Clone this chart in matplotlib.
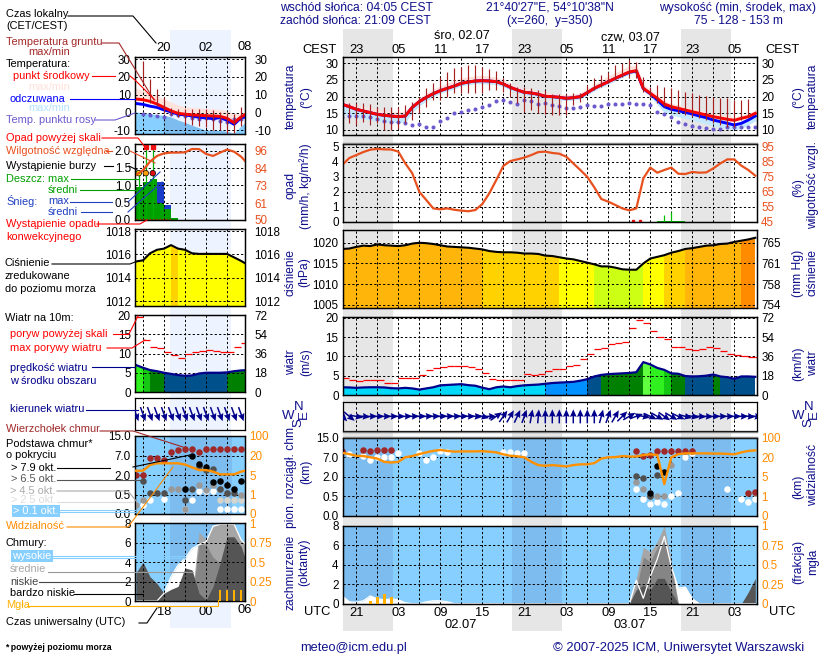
import numpy as np
import matplotlib
matplotlib.use('Agg')
import matplotlib.pyplot as plt
from matplotlib.colors import ListedColormap, BoundaryNorm

plt.rcParams['font.family'] = ['Liberation Sans', 'DejaVu Sans']
plt.rcParams['font.size'] = 8.4

W, H = 820, 660
NAVY = '#10108c'
RH_COL = '#e8501e'
VIS_COL = '#ff8c00'
SKY = '#87cfff'
SKY_NIGHT = '#7cbcee'

# hours counted from 01.07 00 UTC
hours = np.arange(19, 79)
hours_l = np.arange(14, 31)

# main panel, one value per hour, six rows of ten
temp_mid = [17.7, 17, 16.2, 15.7, 15.2, 14.7, 14.4, 14.2, 14, 14.2,
            16.8, 18.5, 19.8, 20.9, 21.8, 22.5, 23.2, 24, 24.4, 24.7,
            24.8, 24.7, 24.5, 23.8, 22.8, 22, 21.3, 21.1, 20.7, 20.1,
            20, 19.8, 19.5, 19.7, 20, 21.2, 22.5, 23.5, 24.5, 25.5,
            26.5, 27.4, 27.8, 22.5, 21, 19.5, 17.8, 17, 16.5, 16,
            15.5, 15, 14.5, 14, 13.6, 13.2, 12.9, 13.5, 14, 15]
temp_max = [18.4, 17.8, 17.2, 16.8, 16.4, 16, 15.6, 15.4, 15.2, 15.4,
            17.6, 19.4, 20.8, 22, 23, 23.8, 24.6, 25.4, 25.8, 26.1,
            26.2, 26, 25.6, 24.8, 23.6, 22.8, 22.2, 22, 21.6, 21,
            20.8, 20.6, 20.3, 20.5, 21, 22.2, 23.5, 24.8, 26, 27,
            28, 29, 29.2, 23.5, 21.8, 20.3, 18.6, 17.8, 17.3, 16.8,
            16.3, 15.8, 15.3, 14.8, 14.4, 14, 13.6, 14.2, 14.8, 15.7]
felt = [17.7, 17, 16.2, 15.7, 15.2, 14.7, 14.4, 14.2, 14, 14.2,
        16.8, 18.5, 19.8, 20.9, 21.8, 22.5, 23.2, 24, 24.4, 24.7,
        24.8, 24.7, 24.5, 23.8, 22.8, 22, 21.3, 21.1, 20.7, 20.1,
        20, 19.8, 19.5, 19.7, 20, 21.2, 22.5, 23.5, 24.5, 25.5,
        26.4, 27.3, 27.7, 22.4, 20.9, 19, 17, 16.2, 15.8, 15.3,
        14.8, 14.2, 13.7, 13, 12.5, 12, 11.5, 12, 13, 14.2]
felt_min = [15, 14.5, 14, 13.5, 13.2, 13, 12.8, 12.5, 12.4, 12.6,
            15.5, 17.5, 19, 20.2, 21.2, 21.9, 22.6, 23.4, 23.8, 24.1,
            24.1, 24, 23.8, 23.2, 22.2, 21.5, 20.7, 20.5, 20.2, 19.6,
            19.5, 19.3, 19, 19.2, 19.5, 20.7, 22, 23, 24, 25,
            26, 27, 27.4, 22, 20.3, 18, 15.5, 14.8, 14.2, 13.7,
            13.2, 12.6, 12, 11.4, 11, 10.6, 10.2, 10.6, 11.8, 13]
dew = [13.9, 14.1, 14.2, 14.3, 14, 13.4, 12.6, 12.4, 12.3, 12.1,
       11.5, 11.8, 10.9, 10.8, 12.7, 13.7, 15, 15.5, 15.9, 16.3,
       16.8, 17.4, 18.8, 19.1, 18.4, 17.7, 19, 18.7, 17.8, 18.2,
       17.4, 17.2, 16.5, 16.5, 16.8, 17.4, 17.2, 17.3, 17.8, 17.9,
       17.9, 18, 17.9, 17.7, 17.5, 15.5, 14.7, 13.8, 12.5, 11.9,
       11.3, 10.9, 10.6, 10.4, 10.2, 10.9, 10.8, 11, 11, 11]
ground_max = [np.nan, 18, 18, 18, 17.8, 17, 17, 17, 17, 17.5,
              18.4, 20, 22.5, 24.2, 26, 27.5, 28.5, 29, 29.6, 29.4,
              29, 28.2, 27.6, 25.5, 24, 23, 23, 22.5, 22, 22,
              20.8, 20.8, 20.8, 21, 21.2, 23.5, 25.5, 26.5, 27.5, 29.5,
              30.2, 31, 30.3, 26, 23, 23.5, 23, 22.5, 22, 21.5,
              21, 20.5, 20.2, 20, 19.5, 19.5, 19, 19, 19.2, np.nan]
ground_min = [np.nan, 12.2, 11.6, 12.5, 11.5, 12, 10, 10, 10.2, 12,
              13, 15, 17, 19, 19, 20, 21, 21, 21, 21,
              21, 22, 22, 21.5, 20, 18, 15.5, 16, 15, 14.8,
              14.5, 14.5, 14.5, 17.5, 18.5, 21, 22, 23, 24, 25,
              26, 25.5, 25.5, 21.5, 20, 18, 17, 16, 15, 14.5,
              14, 13.5, 13, 12, 11.5, 11, 11, 13, 14, np.nan]
humidity = [83, 87.6, 89.6, 91.6, 93.2, 93.7, 93.4, 93.3, 91.9, 84,
            77.4, 65, 59.5, 53.9, 53.3, 53.9, 53, 52.4, 52, 52.8,
            56.8, 64, 72.9, 82.3, 85.6, 86.7, 87.9, 89.6, 91.6, 91.9,
            91, 90.5, 88.5, 84, 79.6, 75, 68, 60.2, 58.4, 56.2,
            53.9, 52.6, 53.9, 74, 81.2, 77.8, 79.6, 81.2, 77.1, 76.9,
            78.3, 77.8, 78, 80.7, 84, 86.7, 86.7, 82.5, 79.6, 75.8]
pressure = [1018.5, 1018.6, 1019, 1019.3, 1019.2, 1019.6, 1019.4, 1019.3, 1019.2, 1019.4,
            1019.8, 1020, 1019.9, 1019.7, 1019.4, 1019.1, 1019, 1018.9, 1018.8, 1018.6,
            1018.4, 1018, 1017.8, 1017.7, 1017.7, 1017.6, 1017.4, 1017.4, 1017.3, 1016.9,
            1016.8, 1016.5, 1016.2, 1016, 1015.6, 1015.2, 1014.8, 1014.3, 1014.3, 1014,
            1013.6, 1013.5, 1013.5, 1015, 1016.2, 1016.6, 1017, 1017.6, 1018, 1018.5,
            1018.7, 1019, 1019.3, 1019.4, 1019.7, 1019.8, 1020.2, 1020.5, 1020.8, 1021.2]
wind = [2, 1.95, 1.85, 1.95, 2, 2, 1.95, 1.76, 1.7, 1.85,
        1.7, 1.4, 1.7, 2, 2.5, 2.6, 2.7, 2.8, 2.55, 2.4,
        1.9, 1.5, 2, 2.2, 2, 2.3, 2.5, 2.6, 2.7, 2.9,
        3.1, 3.2, 3.3, 3.4, 3.7, 4.1, 4.8, 5.2, 5.4, 5.5,
        5.6, 5.7, 5.9, 8.5, 7.9, 7, 6.5, 5.6, 5.5, 4.9,
        4.8, 4.85, 5, 5.3, 4.8, 4.6, 4.2, 4.8, 4.8, 4.7]
gust = [4.4, 4, 3.7, 3.9, 3.9, 3.9, 3.1, 3.1, 4.3, 4.3,
        4.3, 5.1, 6.5, 7, 7.2, 7.5, 7.5, 7.5, 7.2, 6.8,
        5.7, 4.1, 3.9, 3.8, 3.8, 4, 5.4, 5.1, 5.4, 6.2,
        6.6, 6.8, 7.4, 7.8, 9.2, 10.6, 11.9, 12.2, 13.1, 13.4,
        13.6, 17.4, 19.5, 18.5, 16.6, 15, 14.5, 12.4, 12.4, 11.9,
        11.6, 12, 12.4, 12.2, 11.3, 10.6, 10.3, 10, 9.9, 9.9]
wind_dir = [-45, -40, -10, -5, 0, 0, 0, 0, 0, 2,
            2, 2, 3, 3, 3, 3, 3, 2, 0, -5,
            -15, 0, 35, 55, 60, 65, 70, 80, 85, 90,
            90, 90, 90, 90, 90, 90, 90, 75, 70, 60,
            45, 30, 20, -10, -25, -30, -35, -30, -25, -15,
            -10, -5, -3, 0, 0, 0, 0, 0, -5, -8]
visibility = [38, 33, 26, 25, 20, 19, 16.5, 16, 16.5, 20,
              25, 33, 40, 46, 50, 46, 43, 44, 44, 44,
              45, 43, 40, 32, 26, 24, 20, 16.5, 14, 13.5,
              14, 13.5, 13, 14, 14.6, 14.6, 15.5, 19, 20, 20.5,
              25, 23, 23, 29, 32, 29, 3.5, 20, 33, 36,
              36, 36, 36, 35, 35, 34, 32, 40, 46, 48]
cloud_high = [0.8, 0.2, 0.15, 0.3, 0.8, 0.5, 0.4, 0.5, 0.4, 0.1,
              0, 0, 0.2, 0.3, 0.3, 0.2, 0, 0, 0, 0,
              0, 0, 0, 0, 0, 0, 0, 0, 0, 0,
              0, 0, 0, 0, 0, 0, 0, 0, 0, 0,
              0, 0, 2.4, 0.55, 2.8, 4.6, 6.9, 3.8, 1.6, 1.7,
              0.5, 0, 0, 0, 0, 0, 0, 0, 0, 0]
cloud_mid = [0, 0, 0, 0, 0, 0, 0, 0, 0, 0,
             0, 0, 0, 0, 0, 0, 0, 0, 0, 0,
             0, 0, 0, 0, 0, 0, 0, 0, 0, 0,
             0, 0, 0, 0, 0, 0, 0, 0, 0, 0,
             0, 0, 2.6, 5.8, 5.3, 6.4, 8, 4.3, 0, 0,
             0, 0, 0, 0, 0, 0, 0, 0, 0, 0]
cloud_low = [0, 0, 0, 0, 0, 0, 0, 0, 0, 0,
             0, 0, 0, 0, 0, 0, 0, 0, 0, 0,
             0, 0, 0, 0, 0, 0, 0, 0, 0, 0,
             0, 0, 0, 0, 0, 0, 0, 0, 0, 0,
             0, 0, 1.5, 4.8, 4.3, 5.8, 6.4, 3.6, 0, 0,
             0, 0, 0, 0, 0, 0, 0, 0, 0, 0]
cloud_vlow = [0, 0, 0, 0, 0, 0, 0, 0, 0, 0,
              0, 0, 0, 0, 0, 0, 0, 0, 0, 0,
              0, 0, 0, 0, 0, 0, 0, 0, 0, 0,
              0, 0, 0, 0, 0, 0, 0, 0, 0, 0,
              0, 0, 1.4, 1.9, 1.4, 2.6, 2.6, 1.2, 0, 0,
              0, 0, 0, 0, 0, 0, 0, 0, 1.2, 2.6]
fog_hours = [23, 24, 25, 26]
fog_frac = [0.03, 0.09, 0.12, 0.08]
rain_hours = [64, 65, 66, 67]
rain_mean = [0.04, 0.05, 0.05, 0.04]
rain_max_hours = [65, 66]
rain_max = [0.45, 0.67]
convective_hours = [60.5, 61.5]

# cloud base dots, main panel (hour, km)
top_h = [19, 22, 23, 24, 25, 26, 61, 62, 63, 64, 65, 66, 67, 68, 69, 77, 78]
top_km = [9.6, 10, 9.6, 10, 10, 10, 9.4, 7.5, 8, 9.6, 9.6, 9.6, 9.4, 9.6, 9.6, 0.74, 0.86]
b79_h = [64, 65, 63]
b79_km = [4.75, 3.3, 0.8]
b65_h = [61, 62, 64, 63]
b65_km = [2.1, 1.95, 2.6, 0.5]
b45_h = [61, 62, 63, 64, 65, 66, 78]
b45_km = [1.6, 1.05, 0.55, 0.55, 0.55, 4.9, 0.75]
b01_h = [20, 22, 23, 24, 25, 26, 27, 30, 31, 32, 33, 34, 42, 43, 44, 45,
         61, 62, 63, 64, 65, 66, 67, 68, 69, 74, 76, 77, 78]
b01_km = [8.2, 7.5, 6.2, 7.2, 7, 7, 8.6, 8.6, 6.3, 7, 9.4, 9, 9.2, 9.2, 8.6, 8.6,
          1.07, 0.43, 0.3, 0.35, 0.3, 0.5, 0.74, 7, 8.6, 1.04, 0.43, 0.35, 0.43]

# left panel, one value per hour
temp_mid_l = [7.6, 7.2, 6.3, 4.8, 2.9, 1, -0.4, -0.9, -1.3, -1.5, -1.7, -1.9, -2.1, -3.2, -5.7, -2.4, -0.2]
felt_l = [5.1, 4.6, 3.6, 2.9, 1.5, 0.4, -0.9, -1.3, -1.9, -2.6, -3, -3.4, -2.8, -4.3, -6.6, -2.8, -2.3]
temp_max_l = [13.3, 12, 10.5, 9, 7.2, 5.5, 3.8, 3, 2.5, 2.2, 1.9, 1.7, 1.5, 0.5, -0.9, -0.5, 0]
felt_min_l = [0, -0.5, -1, -1.5, -1.9, -3, -4.7, -6, -7.6, -9, -10.4, -10.4, -10.4, -11, -12, -8, -4.7]
dew_l = [np.nan, -0.9, -1.3, -1.9, -2.3, -0.6, -1.3, -1.9, -2.8, -3.8, -3.2, -3.8, -4.7, -5.1, -3.8, -3.8, np.nan]
ground_max_l = [np.nan, 29, 18.8, 13.3, 9, 2.5, 2, 2, 2.2, 2, 1.9, 1.5, 0.5, 0, -1, 3, 1]
ground_min_l = [np.nan, 16, 5.5, 3.9, 0, -1.5, -2.5, -7, -7, -7.5, -8, -10, -10, -12, -11.5, -7.5, -5]
humidity_l = [79.9, 83, 88.7, 92.5, 94.2, 94.7, 94.7, 94.9, 97.1, 97, 93.8, 92.5, 94.7, 96.7, 95.3, 92, 87]
pressure_l = [1015.4, 1015.5, 1016.1, 1016.4, 1016.5, 1016.8, 1016.5, 1016.4, 1016.1, 1016.05,
              1016.05, 1016.05, 1016.05, 1016.05, 1015.75, 1015.45, 1015.1]
wind_l = [7, 6.3, 5.7, 5.4, 5, 4.7, 4.4, 4.2, 4.3, 4.8, 5, 5, 5, 5.1, 5.4, 5.6, 5.7]
gust_l = [19.6, 13.5, 11.6, 11.4, 10.5, 9.6, 8.9, 9.8, 10.3, 10.7, 10.9, 10.6, 10.5, 10.5, 11.6, 12.6, 13]
wind_dir_l = [-70, -70, -70, -70, -70, -70, -70, -70, -70, -70, -70, -70, -70, -70, -70, -70, -70]
visibility_l = [8.3, 8.3, 12.7, 14, 14, 14, 14, 13, 10.9, 8.8, 8.8, 7.6, 5.5, 5.5, 5.5, 7.6, 8.8]
cloud_high_l = [0, 0, 0, 0, 0.8, 2.5, 3.7, 4.4, 5.4, 5.8, 6.1, 7.7, 7.9, 7.9, 7.9, 6.3, 5.6]
cloud_mid_l = [0, 0, 0, 0, 0, 0, 0, 0, 0.5, 7.1, 6.3, 7.7, 7.9, 7.9, 7.9, 6.3, 5.6]
cloud_low_l = [0, 0, 0, 0, 0, 0, 0, 0, 0, 5.8, 5.8, 4.5, 3.9, 6.6, 6.6, 5.6, 3.5]
cloud_vlow_l = [2.9, 4, 2.5, 1.8, 0.8, 1.2, 1.5, 3.4, 3.2, 0.8, 0.1, 1.5, 3.9, 6.6, 6.6, 5.6, 3.5]
fog_hours_l = [26, 27, 28, 29]
fog_frac_l = [0.14, 0.14, 0.14, 0.14]
rain_hours_l = [14, 15, 16, 17, 18, 19]
rain_mean_l = [0.94, 1.1, 1.17, 0.5, 0.33, 0.07]
snow_max_l = [0, 0, 0, 1.1, 0.43, 0]
rain_max_hours_l = [14.4, 15.4, 16.4]
rain_max_l = [1.35, 2.1, 2.1]
above_hours_l = [15.4, 16.4]
storm_hours_l = [14.4, 15.4, 16.4]
storm_colors_l = ['#ffe000', '#ffa000', '#e01010']

top_h_l = [14, 15, 16, 17, 18, 19, 20, 21, 22, 23, 24, 25, 26, 27, 28, 29, 30]
top_km_l = [2, 2, 6.3, 6.3, 5.85, 8.6, 9.2, 9.6, 9.6, 8.6, 9.6, 9.6, 9.6, 9.6, 9.6, 9.6, 9.6]
b79_h_l = [21, 22, 23, 24, 25, 26, 27, 28, 29]
b79_km_l = [0.9, 7, 4.75, 3.95, 1.5, 1.55, 1.2, 0.9, 1.55]
b65_h_l = [15, 16, 17, 18, 21, 22, 23, 24, 25, 26, 27, 28]
b65_km_l = [1.55, 0.65, 0.65, 0.65, 0.36, 0.9, 4.2, 3.4, 3.6, 0.9, 0.65, 0.6]
b45_h_l = [14, 15, 19, 20, 21, 23, 24, 25, 26, 27, 29]
b45_km_l = [0.23, 0.36, 0.9, 0.9, 0.13, 1.2, 0.85, 1.2, 0.9, 0.6, 0.5]
b25_h_l = [26, 27, 28, 29]
b25_km_l = [0.36, 0.36, 0.36, 0.36]
b01_h_l = [15, 16, 18, 21, 22, 23, 24, 25, 26, 27, 28, 29]
b01_km_l = [0.23, 0.36, 0.38, 0.13, 0.36, 0.75, 0.75, 0.75, 0.13, 0.13, 0.13, 0.13]

# scales that both blocks use
press_levels = [1015, 1016.7, 1018.45, 1020.3]
press_colors = ['#ccff14', '#ffff00', '#ffd200', '#ffb50a', '#ff8c00']
wind_levels = [2.9, 3.8, 5.1, 6, 6.8, 8]
wind_colors = ['#00d8fa', '#0090ff', '#00508c', '#008000', '#14c814', '#30f020', '#60ff40']
km_slots = [0, 0.5, 2, 7, 15]
vis_slots = [0, 1, 5, 20, 100]
night_main = [(19.06, 26.2), (43.24, 50.4), (67.4, 74.5)]
night_left = [(18.86, 27.64)]


def new_panel(xlim, box, ylim, yticks, grid_x, ylabels=None):
    x0, x1, top, bot = box
    ax = fig.add_axes([x0 / W, 1 - bot / H, (x1 - x0) / W, (bot - top) / H])
    ax.set_facecolor('none')
    ax.set_xlim(*xlim)
    ax.set_ylim(*ylim)
    ax.set_yticks(yticks, ylabels if ylabels else [str(v) for v in yticks])
    ax.set_xticks(grid_x, [''] * len(grid_x))
    ax.tick_params(length=0, pad=3)
    ax.set_axisbelow(False)
    ax.grid(True, ls=(0, (2.2, 2.2)), color='k', lw=0.72)
    for sp in ax.spines.values():
        sp.set_linewidth(0.9)
    return ax


def right_axis(ax, ticks, labels, ylim=None, color='k', pad=3):
    twin = ax.twinx()
    twin.set_ylim(*(ylim if ylim else ax.get_ylim()))
    twin.set_yticks(ticks, labels)
    twin.tick_params(length=0, pad=pad, labelcolor=color)
    for sp in twin.spines.values():
        sp.set_linewidth(0.9)
    return twin


def colored_area(ax, h, y, y0, levels, colors):
    # one colour per hour, cut off under the line
    h = np.asarray(h)
    edges = np.append(h, h[-1] + 1)
    norm = BoundaryNorm([-1e6] + levels + [1e6], len(colors))
    mesh = ax.pcolormesh(edges, [y0, max(y) + 1], np.array([y]), cmap=ListedColormap(colors), norm=norm, zorder=1)
    poly = ax.fill_between(h, y, y0, color='none')
    mesh.set_clip_path(poly.get_paths()[0], ax.transData)


def temp_panel(ax, h, mid, tmax, fl, fmin, dw, gmax, gmin, nights, fill_floor):
    mid, tmax, fl, fmin = map(np.array, (mid, tmax, fl, fmin))
    ax.fill_between(h, mid, tmax, color='#ffe2dc', zorder=1)
    ax.fill_between(h, fmin, fl if fill_floor is None else fmin * 0 + fill_floor, color='#c4e8ff' if fill_floor is None else SKY, zorder=1)
    if fill_floor is not None:
        for a, b in nights:
            mask = (h >= a - 1) & (h <= b + 1)
            ax.fill_between(h[mask], fmin[mask], fill_floor, color=SKY_NIGHT, zorder=1)
    ax.plot(h, dw, ls='none', marker='o', ms=2.9, mec='none', color='#6a5acd', zorder=3)
    ax.plot(h, fl, color='#0000ff', lw=2.1, zorder=3)
    ax.plot(h, mid, color='#ff0000', lw=2.1, zorder=4)
    ax.vlines(h, gmin, gmax, color='#a52020', lw=0.85, zorder=5)


def cloud_base_panel(ax, groups):
    ax.set_facecolor(SKY)
    fwd = lambda v: np.interp(v, km_slots, [0, 1, 2, 3, 4])
    inv = lambda v: np.interp(v, [0, 1, 2, 3, 4], km_slots)
    ax.set_yscale('function', functions=(fwd, inv))
    ax.set_ylim(0, 15)
    ax.set_yticks(km_slots, ['0.0', '0.5', '2.0', '7.0', '15.0'])
    for xs, ys, col in groups:
        ax.scatter(xs, ys, s=22, color=col, lw=0, zorder=3)


def vis_axis(ax, h, vis):
    fwd = lambda v: np.interp(v, vis_slots, [0, 1, 2, 3, 4])
    inv = lambda v: np.interp(v, [0, 1, 2, 3, 4], vis_slots)
    twin = ax.twinx()
    twin.set_yscale('function', functions=(fwd, inv))
    twin.set_ylim(0, 100)
    twin.set_yticks(vis_slots, [str(v) for v in vis_slots])
    twin.tick_params(length=0, pad=3, labelcolor=VIS_COL)
    twin.plot(h, vis, color='#ff9000', lw=1.7, zorder=4)
    for sp in twin.spines.values():
        sp.set_linewidth(0.9)


def cloud_panel(ax, h, high, mid, low, vlow):
    ax.set_facecolor(SKY)
    ax.fill_between(h, 0, high, color='white', lw=0, zorder=1)
    ax.fill_between(h, 0, mid, color='#a6a6a6', lw=0, zorder=1)
    ax.fill_between(h, 0, low, color='#858585', lw=0, zorder=1)
    ax.fill_between(h, 0, vlow, color='#555555', lw=0, zorder=1)
    ax.plot(h, high, color='white', lw=0.9, zorder=2)


def fog_axis(ax, fh, ff, width):
    twin = right_axis(ax, [0, 0.25, 0.5, 0.75, 1], ['0', '0.25', '0.5', '0.75', '1'], ylim=(0, 1), color=VIS_COL)
    twin.bar(fh, ff, width=width, color='#ffb000', zorder=4)


fig = plt.figure(figsize=(W / 100, H / 100), dpi=100)

# page layer in pixels, under everything
bg = fig.add_axes([0, 0, 1, 1], zorder=-1)
bg.set_xlim(0, W)
bg.set_ylim(H, 0)
bg.axis('off')
for a, b in night_main:
    bg.axvspan(356.3 + 7 * (a - 21), 356.3 + 7 * (b - 21), ymin=1 - 631 / H, ymax=1 - 29 / H, color='#e6e6e6', lw=0)
for a, b in night_left:
    bg.axvspan(143 + 7 * (a - 15), 143 + 7 * (b - 15), ymin=1 - 628 / H, ymax=1 - 30 / H, color='#eef4ff', lw=0)

# ----- main block
xlim = (19.06, 78.24)
gx = np.arange(21, 78, 3)
xr = (342.7, 757)

ax = new_panel(xlim, (*xr, 57, 135), (8.5, 31.9), [10, 15, 20, 25, 30], gx)
temp_panel(ax, hours, temp_mid, temp_max, felt, felt_min, dew, ground_max, ground_min, night_main, None)
ax.set_xticks(gx, ['23', '', '05', '', '11', '', '17', '', '23', '', '05', '', '11', '', '17', '', '23', '', '05', ''][:len(gx)])
ax.tick_params(axis='x', labeltop=True, labelbottom=False, pad=0.5, labelsize=9.3)
right_axis(ax, [10, 15, 20, 25, 30], ['10', '15', '20', '25', '30'])

ax = new_panel(xlim, (*xr, 144, 221.7), (0, 5.2), [0, 1, 2, 3, 4, 5], gx)
ax.bar(rain_hours, rain_mean, width=1, align='edge', color='#00a000', zorder=3)
ax.vlines(rain_max_hours, 0, rain_max, color='#00c000', lw=0.9, zorder=3)
ax.plot(hours, np.zeros(60), color='#208020', lw=0.8, zorder=3)
ax.plot(convective_hours, [0.03, 0.03], ls='none', marker='s', ms=1.8, color='#e01010', zorder=5)
twin = right_axis(ax, [45, 55, 65, 75, 85, 95], ['45', '55', '65', '75', '85', '95'], ylim=(45, 97), color=RH_COL)
twin.plot(hours, humidity, color=RH_COL, lw=1.6)

ax = new_panel(xlim, (*xr, 230.3, 308.3), (1004.2, 1023), [1005, 1010, 1015, 1020], gx)
colored_area(ax, hours, pressure, 1004.2, press_levels, press_colors)
ax.plot(hours, pressure, color='k', lw=1.5, zorder=4)
right_axis(ax, [1005, 1010, 1015, 1020], ['754', '758', '761', '765'])

ax = new_panel(xlim, (*xr, 317.3, 395), (0, 20.1), [0, 5, 10, 15, 20], gx)
colored_area(ax, hours, wind, 0, wind_levels, wind_colors)
ax.plot(hours, wind, color='#00008c', lw=1.6, zorder=4)
ax.hlines(gust, hours, hours + 1, color='#ff0000', lw=0.9, zorder=4)
right_axis(ax, [0, 5, 10, 15, 20], ['0', '18', '36', '54', '72'])

ax = new_panel(xlim, (*xr, 401.7, 431), (-1, 1), [], gx)
rad = np.radians(wind_dir)
ax.quiver(hours, np.zeros(60), np.cos(rad), np.sin(rad), angles='uv', pivot='mid', units='dots',
          scale_units='dots', scale=1 / 14, width=1.5, headwidth=4.5, headlength=5, headaxislength=4.5,
          color='#00008c', zorder=4, clip_on=True)

ax = new_panel(xlim, (*xr, 437.7, 516), (0, 15), [0], gx)
for a, b in night_main:
    ax.axvspan(a, b, color=SKY_NIGHT, lw=0, zorder=0)
cloud_base_panel(ax, [(b01_h, b01_km, 'white'), (b45_h, b45_km, '#999999'), (b65_h, b65_km, '#505050'),
                      (b79_h, b79_km, 'black'), (top_h, top_km, '#a02828')])
vis_axis(ax, hours, visibility)

ax = new_panel(xlim, (*xr, 525.7, 603.7), (0, 8), [0, 2, 4, 6, 8], gx)
for a, b in night_main:
    ax.axvspan(a, b, color=SKY_NIGHT, lw=0, zorder=0)
cloud_panel(ax, hours, cloud_high, cloud_mid, cloud_low, cloud_vlow)
ax.set_xticks(gx, ['21', '', '03', '', '09', '', '15', '', '21', '', '03', '', '09', '', '15', '', '21', '', '03', ''][:len(gx)])
ax.tick_params(axis='x', pad=2.5, labelsize=9.3)
fog_axis(ax, fog_hours, fog_frac, 0.4)

# ----- left block
xlim_l = (13.86, 29.6)
gx_l = np.arange(15, 30, 3)
xr_l = (135, 245.3)

ax = new_panel(xlim_l, (*xr_l, 57.3, 134), (-12, 31), [-10, 0, 10, 20, 30], gx_l)
temp_panel(ax, hours_l, temp_mid_l, temp_max_l, felt_l, felt_min_l, dew_l, ground_max_l, ground_min_l, night_left, -12)
ax.set_xticks(gx_l, ['', '20', '', '02', ''])
ax.tick_params(axis='x', labeltop=True, labelbottom=False, pad=2.5, labelsize=9.3)
right_axis(ax, [-10, 0, 10, 20, 30], ['-10', '0', '10', '20', '30'], pad=6.5)

ax = new_panel(xlim_l, (*xr_l, 143.7, 220), (0, 2.2), [0, 0.5, 1, 1.5, 2], gx_l, ['0.0', '0.5', '1.0', '1.5', '2.0'])
ax.bar(rain_hours_l, snow_max_l, width=1, align='edge', color='#1a3cc8', zorder=2)
ax.bar(rain_hours_l, rain_mean_l, width=1, align='edge', color='#00a000', zorder=2)
ax.vlines(rain_max_hours_l, 0, rain_max_l, color='#00b000', lw=0.9, zorder=3)
ax.plot(above_hours_l, [2.1, 2.1], ls='none', marker='s', ms=2.4, color='#f01010', zorder=5)
ax.scatter(storm_hours_l, [1.35, 1.35, 1.35], c=storm_colors_l, s=16, edgecolors='k', linewidths=0.5, zorder=5)
ax.plot(rain_hours_l, [0.02] * 6, ls=':', color='#e01010', lw=0.9, zorder=5)
twin = right_axis(ax, [50, 61, 73, 84, 96], ['50', '61', '73', '84', '96'], ylim=(50, 100.6), color=RH_COL, pad=6.5)
twin.plot(hours_l, humidity_l, color=RH_COL, lw=1.6)

ax = new_panel(xlim_l, (*xr_l, 229.3, 306), (1011.6, 1018.15), [1012, 1014, 1016, 1018], gx_l)
colored_area(ax, hours_l, pressure_l, 1011.6, press_levels, press_colors)
ax.plot(hours_l, pressure_l, color='k', lw=1.5, zorder=4)
right_axis(ax, [1012, 1014, 1016, 1018], ['1012', '1014', '1016', '1018'], pad=6.5)

ax = new_panel(xlim_l, (*xr_l, 315, 392), (0, 20), [0, 5, 10, 15, 20], gx_l)
colored_area(ax, hours_l, wind_l, 0, wind_levels, wind_colors)
ax.plot(hours_l, wind_l, color='#00008c', lw=1.6, zorder=4)
ax.hlines(gust_l, hours_l, hours_l + 1, color='#ff0000', lw=0.9, zorder=4)
right_axis(ax, [0, 5, 10, 15, 20], ['0', '18', '36', '54', '72'], pad=6.5)

ax = new_panel(xlim_l, (*xr_l, 398.3, 430), (-1, 1), [], gx_l)
rad_l = np.radians(wind_dir_l)
ax.quiver(hours_l, np.zeros(17), np.cos(rad_l), np.sin(rad_l), angles='uv', pivot='mid', units='dots',
          scale_units='dots', scale=1 / 15, width=1.5, headwidth=4.5, headlength=5, headaxislength=4.5,
          color='#00008c', zorder=4)

ax = new_panel(xlim_l, (*xr_l, 436, 514), (0, 15), [0], gx_l)
for a, b in night_left:
    ax.axvspan(a, b, color=SKY_NIGHT, lw=0, zorder=0)
cloud_base_panel(ax, [(b01_h_l, b01_km_l, 'white'), (b25_h_l, b25_km_l, '#d4d4cc'), (b45_h_l, b45_km_l, '#999999'),
                      (b65_h_l, b65_km_l, '#505050'), (b79_h_l, b79_km_l, 'black'), (top_h_l, top_km_l, '#a02828')])
vis_axis(ax, hours_l, visibility_l)

ax = new_panel(xlim_l, (*xr_l, 523.3, 601), (0, 8), [0, 2, 4, 6, 8], gx_l)
for a, b in night_left:
    ax.axvspan(a, b, color=SKY_NIGHT, lw=0, zorder=0)
cloud_panel(ax, hours_l, cloud_high_l, cloud_mid_l, cloud_low_l, cloud_vlow_l)
ax.set_xticks(gx_l, ['', '18', '', '00', ''])
ax.tick_params(axis='x', pad=3.5, labelsize=9.3)
fog_axis(ax, fog_hours_l, fog_frac_l, 0.4)

# ----- text and connector lines, in pixels
top = fig.add_axes([0, 0, 1, 1], zorder=10)
top.set_xlim(0, W)
top.set_ylim(H, 0)
top.axis('off')
top.patch.set_alpha(0)


def put(x, y, s, color='k', size=7.9, ha='left', **kw):
    top.text(x, y, s, color=color, fontsize=size, ha=ha, va='center', **kw)


GREEN = '#00a000'
SNOW = '#2040c0'
labels = [
    (6, 14, 'Czas lokalny', 'k'), (6, 26, '(CET/CEST)', 'k'),
    (6, 42, 'Temperatura gruntu', '#a52a2a'), (28, 52, 'max/min', '#a52a2a'),
    (6, 64, 'Temperatura:', 'k'), (13, 76, 'punkt środkowy', '#ff0000'),
    (28, 87, 'max/min', '#ffe0d8'), (10, 99, 'odczuwana', '#0000ff'),
    (28, 108, 'max/min', '#b4e2ff'), (6, 120, 'Temp. punktu rosy', '#6a5acd'),
    (6, 138, 'Opad powyżej skali', '#ff0000'), (6, 151, 'Wilgotność względna', RH_COL),
    (6, 166, 'Wystąpienie burzy', 'k'), (6, 179, 'Deszcz: max', GREEN),
    (48, 190, 'średni', GREEN), (6, 201, 'Śnieg:', SNOW), (48, 201, 'max', SNOW),
    (48, 212, 'średni', SNOW), (6, 224, 'Wystąpienie opadu', '#ff0000'),
    (6, 237, 'konwekcyjnego', '#ff0000'), (5, 263, 'Ciśnienie', 'k'),
    (5, 276, 'zredukowane', 'k'), (5, 289, 'do poziomu morza', 'k'),
    (5, 318, 'Wiatr na 10m:', 'k'), (10, 334, 'poryw powyżej skali', '#ff0000'),
    (10, 348, 'max porywy wiatru', '#ff0000'), (10, 368, 'prędkość wiatru', '#00008c'),
    (10, 381, 'w środku obszaru', '#00008c'), (10, 409, 'kierunek wiatru', '#00008c'),
    (6, 429, 'Wierzchołek chmur', '#a02828'), (6, 444, 'Podstawa chmur*', 'k'),
    (6, 455, 'o pokryciu', 'k'), (11, 468, '> 7.9 okt.', 'k'), (11, 479, '> 6.5 okt.', '#555555'),
    (10, 490.5, '> 4.5 okt.', '#aaaaaa'), (11, 500, '> 2.5 okt.', '#dddddd'),
    (6, 526, 'Widzialność', '#ff8c00'), (6, 543, 'Chmury:', 'k'),
    (10, 569, 'średnie', '#a8a8a8'), (10, 582, 'niskie', '#444444'),
    (10, 593, 'bardzo niskie', 'k'), (6, 605, 'Mgła', '#ffb000'),
    (6, 622, 'Czas uniwersalny (UTC)', 'k'),
]
for x, y, s, col in labels:
    put(x, y, s, col)
put(13, 511, '> 0.1 okt.', 'white', bbox=dict(fc=SKY, ec='none', pad=1))
put(12, 556, 'wysokie', 'white', bbox=dict(fc=SKY, ec='none', pad=1))
put(5, 648, '* powyżej poziomu morza', 'k', size=6.3, fontweight='bold')

connectors = [
    ([68, 133, 156], [16, 16, 43], 'k'), ([102, 119, 154], [43, 43, 100], '#a52a2a'),
    ([92, 115], [76, 76], '#ff0000'), ([130, 135, 155], [76, 80, 100], '#ff0000'),
    ([70, 135], [99, 99], '#0000ff'), ([95, 115, 135], [120, 120, 113], '#6a5acd'),
    ([102, 138, 145], [138, 138, 147], '#ff0000'), ([106, 112], [151, 151], RH_COL),
    ([130, 155], [151, 163], RH_COL), ([104, 113], [166, 166], 'k'), ([129, 137], [166, 170], 'k'),
    ([71, 139], [179, 179], '#00a000'), ([80, 143], [190, 190], '#00a000'),
    ([70, 112], [202, 202], SNOW), ([128, 160], [202, 172], SNOW),
    ([81, 112], [212, 212], SNOW), ([128, 162], [212, 182], SNOW),
    ([97, 140, 147], [224, 224, 220], '#ff0000'), ([52, 130, 135], [264, 264, 262], 'k'),
    ([113, 128], [334, 334], '#ff0000'), ([129, 138], [334, 316], '#ff0000'),
    ([107, 132, 145], [348, 348, 340], '#ff0000'), ([92, 135], [367, 367], '#00008c'),
    ([86, 138], [410, 410], '#00008c'), ([100, 133, 183], [431, 431, 447], '#a02828'),
    ([57, 110], [468, 468], 'k'), ([133, 190], [467, 455], 'k'),
    ([57, 140], [480, 480], '#555555'), ([57, 128, 137], [491, 491, 502], '#aaaaaa'),
    ([57, 133], [502, 502], '#dddddd'), ([57, 135], [510, 510], SKY), ([57, 135], [512, 512], SKY),
    ([67, 128, 173], [527, 527, 467], '#ff8c00'), ([53, 185], [556, 556], SKY), ([53, 185], [558, 558], SKY),
    ([48, 193], [572, 572], '#999999'), ([39, 135], [582, 582], '#444444'),
    ([74, 143], [594, 594], 'k'), ([27, 218, 218], [606, 606, 600], '#ffb000'),
    ([139, 147, 157], [623, 623, 608], 'k'),
]
for xs, ys, col in connectors:
    top.plot(xs, ys, color=col, lw=0.8)

# grey rules between some main panels
for y in (143, 431.7, 437):
    top.plot([343, 757], [y, y], color='#808080', lw=1)

# header lines
put(280, 8, 'wschód słońca: 04:05 CEST', NAVY, size=8.7)
put(280, 21, 'zachód słońca: 21:09 CEST', NAVY, size=8.7)
put(550, 8, '21°40\'27"E, 54°10\'38"N', NAVY, size=8.7, ha='center')
put(550, 21, '(x=260,  y=350)', NAVY, size=8.7, ha='center')
put(738, 8, 'wysokość (min, środek, max)', NAVY, size=8.7, ha='center')
put(738, 21, '75 - 128 - 153 m', NAVY, size=8.7, ha='center')
put(462, 36, 'śro, 02.07', 'k', size=9, ha='center')
put(630, 37, 'czw, 03.07', 'k', size=9, ha='center')
put(337, 50, 'CEST', 'k', size=9.3, ha='right')
put(765, 50, 'CEST', 'k', size=9.3)
put(245, 47, '08', 'k', size=9.3, ha='center')
put(245, 610, '06', 'k', size=9.3, ha='center')
put(330, 612, 'UTC', 'k', size=9.3, ha='right')
put(769, 612, 'UTC', 'k', size=9.3)
put(461, 625, '02.07', 'k', size=9.3, ha='center')
put(630, 625, '03.07', 'k', size=9.3, ha='center')
put(300, 648, 'meteo@icm.edu.pl', NAVY, size=9.2)
put(553, 648, '© 2007-2025 ICM, Uniwersytet Warszawski', NAVY, size=9.4)

# side captions: x, y, text
side = [
    (291, 96, 'temperatura'), (306, 97, '(°C)'), (813, 96, 'temperatura'), (798, 97, '(°C)'),
    (291, 185, 'opad'), (306, 186, '(mm/h, kg/m²/h)'), (813, 185, 'wilgotność wzgl.'), (798, 188, '(%)'),
    (291, 272, 'ciśnienie'), (304, 272, '(hPa)'), (813, 273, 'ciśnienie'), (798, 273, '(mm Hg)'),
    (291, 362, 'wiatr'), (306, 362, '(m/s)'), (813, 363, 'wiatr'), (798, 364, '(km/h)'),
    (291, 476, 'pion. rozciągł. chm.'), (306, 472, '(km)'), (813, 475, 'widzialność'), (798, 487, '(km)'),
    (291, 572, 'zachmurzenie'), (304, 562, '(oktanty)'), (813, 562, 'mgła'), (798, 562, '(frakcja)'),
]
for x, y, s in side:
    put(x, y, s, NAVY, size=8.7, rotation=90, ha='center')

# compass letters
for dx in (0, 510):
    put(288 + dx, 416, 'W', NAVY, size=9.5, ha='center')
    put(299 + dx, 407, 'N', NAVY, size=9.5, ha='center')
    put(304 + dx, 415, 'E', NAVY, size=9.5, ha='center', rotation=90)
    put(298 + dx, 423, 'S', NAVY, size=9.5, ha='center', rotation=90)

fig.savefig('out.png', dpi=100)
